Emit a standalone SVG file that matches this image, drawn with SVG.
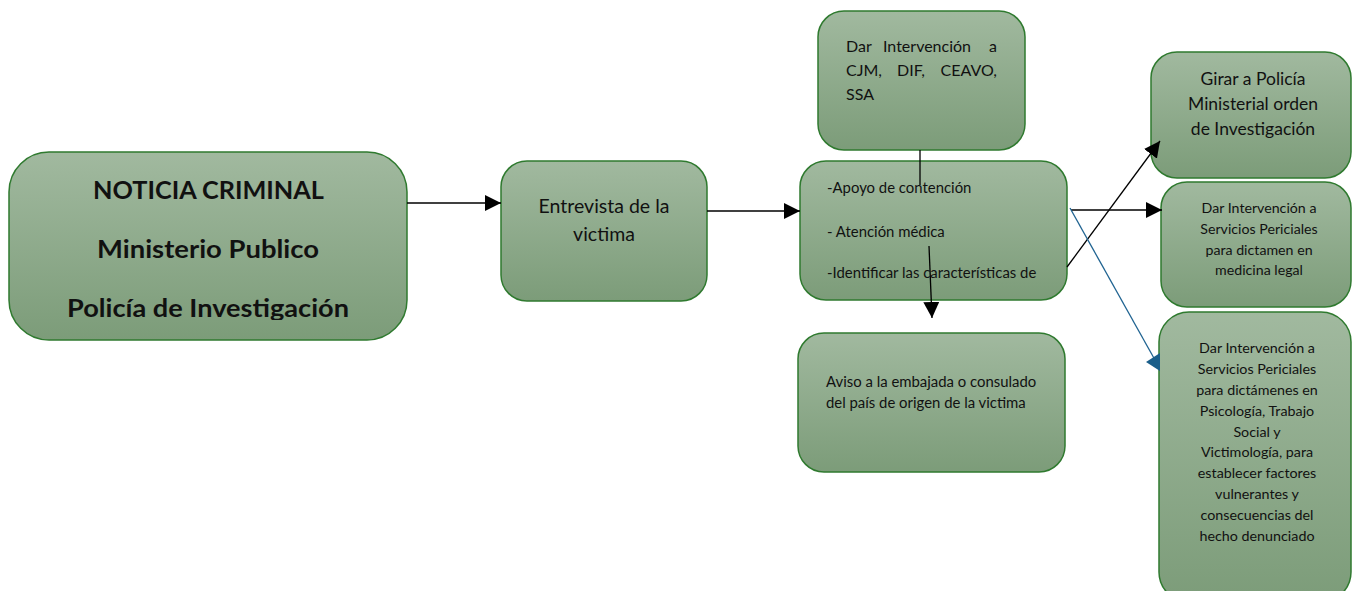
<svg xmlns="http://www.w3.org/2000/svg" width="1352" height="591" viewBox="0 0 1352 591">
<defs>
<linearGradient id="g" x1="0" y1="0" x2="0" y2="1">
<stop offset="0" stop-color="#a1b99f"/>
<stop offset="1" stop-color="#7c9c79"/>
</linearGradient>
<clipPath id="c1"><rect x="9" y="152" width="398" height="168"/></clipPath>
<marker id="ah" viewBox="0 0 10 10" refX="10" refY="5" markerWidth="16" markerHeight="16" markerUnits="userSpaceOnUse" orient="auto">
<path d="M0,0 L10,5 L0,10 z" fill="#000"/>
</marker>
</defs>
<style>
.box{fill:url(#g);stroke:#2f7a2f;stroke-width:1.5}
.t{font-family:Lato,"Liberation Sans",sans-serif;fill:#111}
.c{text-anchor:middle}
.e{text-anchor:end}
.ln{stroke:#000;stroke-width:1.3;fill:none}
</style>
<rect width="1352" height="591" fill="#fff"/>
<g id="n1">
<rect class="box" x="9" y="152" width="398" height="188" rx="40"/>
<g clip-path="url(#c1)" class="t" font-weight="bold" font-size="25">
<text x="93" y="199" textLength="231" lengthAdjust="spacingAndGlyphs">NOTICIA CRIMINAL</text>
<text x="97" y="258" textLength="222" lengthAdjust="spacingAndGlyphs">Ministerio Publico</text>
<text x="67" y="317" textLength="282" lengthAdjust="spacingAndGlyphs">Policía de Investigación</text>
</g>
</g>
<g id="n2">
<rect class="box" x="501" y="161" width="206" height="140" rx="26"/>
<text class="t c" font-size="19.5" x="604" y="213">Entrevista de la</text>
<text class="t c" font-size="19.5" x="604" y="241">victima</text>
</g>
<g id="n3">
<rect class="box" x="818" y="11" width="207" height="139" rx="26"/>
<g class="t" font-size="16">
<text x="846" y="52">Dar</text>
<text x="883" y="52">Intervención</text>
<text class="e" x="997" y="52">a</text>
<text x="846" y="76">CJM,</text>
<text x="897" y="76">DIF,</text>
<text class="e" x="997" y="76">CEAVO,</text>
<text x="846" y="100">SSA</text>
</g>
</g>
<g id="n4">
<rect class="box" x="800" y="161" width="267" height="139" rx="26"/>
<text class="t" font-size="14.9" x="827" y="193">-Apoyo de contención</text>
<text class="t" font-size="14.9" x="827" y="237">- Atención médica</text>
<text class="t" font-size="14.9" x="827" y="278">-Identificar las características de</text>
</g>
<g id="n5">
<rect class="box" x="798" y="333" width="267" height="139" rx="26"/>
<text class="t" font-size="14.9" x="826" y="387">Aviso a la embajada o consulado</text>
<text class="t" font-size="14.9" x="826" y="408">del país de origen de la victima</text>
</g>
<g id="n6">
<rect class="box" x="1151" y="52" width="200" height="126" rx="26"/>
<text class="t c" font-size="17.5" x="1253" y="85">Girar a Policía</text>
<text class="t c" font-size="17.5" x="1253" y="110">Ministerial orden</text>
<text class="t c" font-size="17.5" x="1253" y="135">de Investigación</text>
</g>
<g id="n7">
<rect class="box" x="1161" y="182" width="190" height="125" rx="26"/>
<text class="t c" font-size="14.2" x="1259" y="213">Dar Intervención a</text>
<text class="t c" font-size="14.2" x="1259" y="234">Servicios Periciales</text>
<text class="t c" font-size="14.2" x="1259" y="255">para dictamen en</text>
<text class="t c" font-size="14.2" x="1259" y="275">medicina legal</text>
</g>
<g id="n8">
<rect class="box" x="1159" y="312" width="192" height="290" rx="30"/>
<g class="t c" font-size="14.3">
<text x="1257" y="353">Dar Intervención a</text>
<text x="1257" y="374">Servicios Periciales</text>
<text x="1257" y="395">para dictámenes en</text>
<text x="1257" y="416">Psicología, Trabajo</text>
<text x="1257" y="437">Social y</text>
<text x="1257" y="457">Victimología, para</text>
<text x="1257" y="478">establecer factores</text>
<text x="1257" y="499">vulnerantes y</text>
<text x="1257" y="520">consecuencias del</text>
<text x="1257" y="541">hecho denunciado</text>
</g>
</g>
<g id="connectors">
<line class="ln" x1="407" y1="203" x2="501" y2="203" marker-end="url(#ah)"/>
<line class="ln" x1="707" y1="211" x2="800" y2="211" marker-end="url(#ah)"/>
<line class="ln" x1="920" y1="150" x2="920" y2="185"/>
<line class="ln" x1="929" y1="246" x2="932" y2="318" marker-end="url(#ah)"/>
<line class="ln" x1="1067" y1="267" x2="1160" y2="141" marker-end="url(#ah)"/>
<line class="ln" x1="1071" y1="210" x2="1162" y2="210" marker-end="url(#ah)"/>
<line x1="1070" y1="208" x2="1155" y2="360" stroke="#1f6391" stroke-width="1.3"/>
<polygon points="1146,362 1160,353 1160,371" fill="#1a5e8a"/>
</g>
</svg>
